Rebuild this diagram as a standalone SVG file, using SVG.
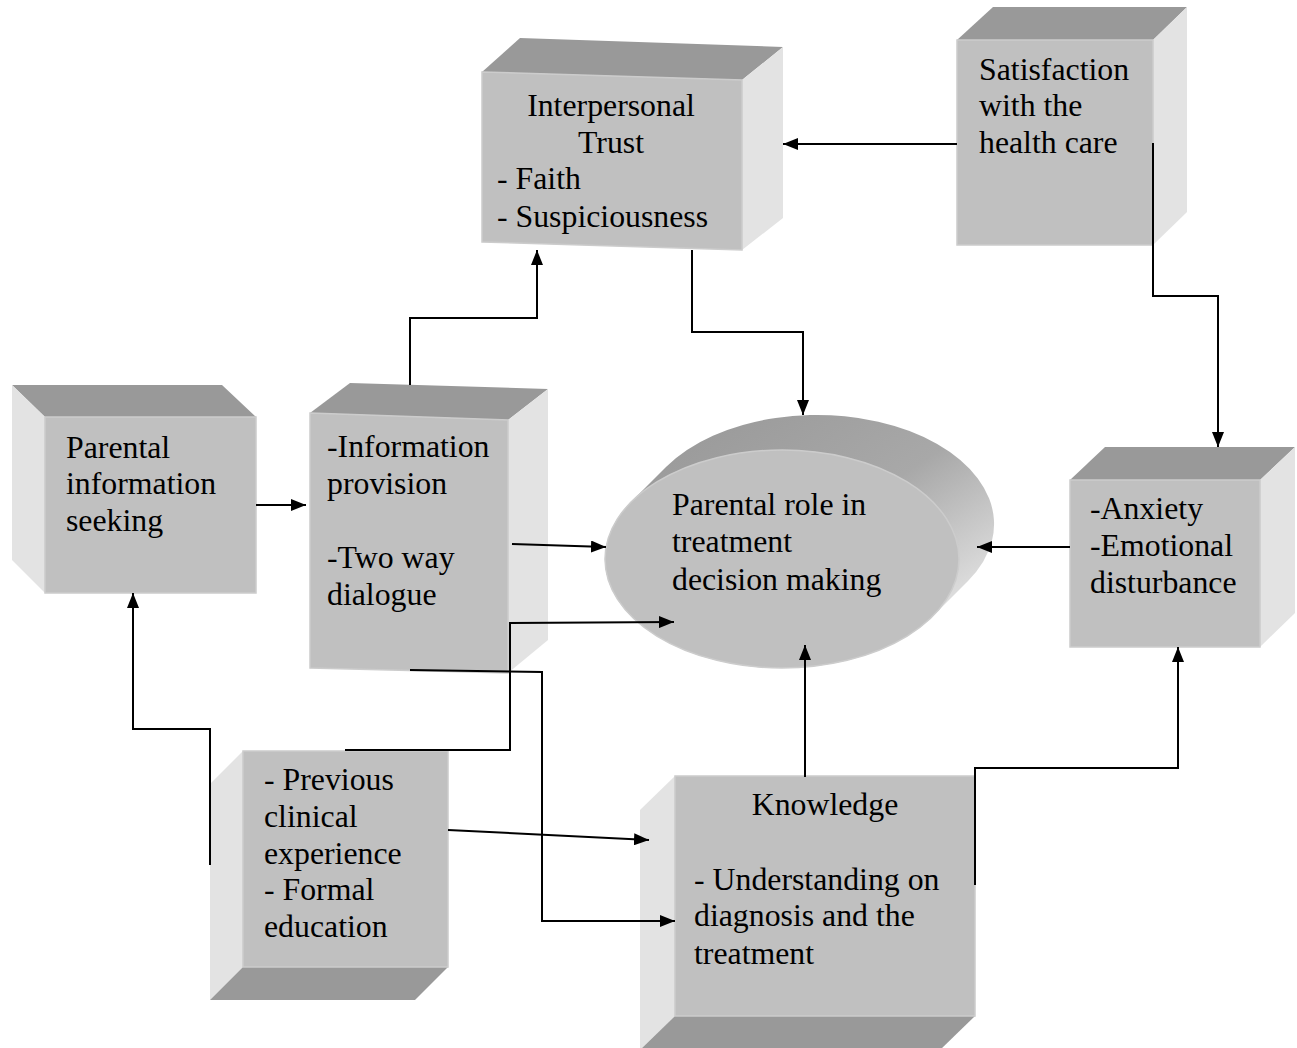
<svg xmlns="http://www.w3.org/2000/svg" width="1297" height="1048" viewBox="0 0 1297 1048">
<style>
.front{fill:#c0c0c0;stroke:#cccccc;stroke-width:1.5}
.top{fill:#999999}
.side{fill:#e3e3e3}
text{font-family:"Liberation Serif","Times New Roman",serif;font-size:31.8px;fill:#000}
.conn path{fill:none;stroke:#000;stroke-width:2}
</style>
<defs>
<marker id="ah" markerWidth="15" markerHeight="12" refX="15" refY="6" orient="auto" markerUnits="userSpaceOnUse">
<path d="M0,0 L15,6 L0,12 Z" fill="#000"/>
</marker>
<linearGradient id="eg" x1="0.25" y1="0" x2="1" y2="0.75">
<stop offset="0" stop-color="#9a9a9a"/>
<stop offset="0.5" stop-color="#a8a8a8"/>
<stop offset="1" stop-color="#e8e8e8"/>
</linearGradient>
</defs>
<rect width="1297" height="1048" fill="#fff"/>

<g id="trust">
<polygon class="top" points="482,72 520,38 783,47 742,80"/>
<polygon class="side" points="742,80 783,47 783,218 742,250"/>
<polygon class="front" points="482,72 742,80 742,250 482,242"/>
<text x="611" y="116" text-anchor="middle">Interpersonal</text>
<text x="611" y="153" text-anchor="middle">Trust</text>
<text x="497" y="189">- Faith</text>
<text x="497" y="227">- Suspiciousness</text>
</g>

<g id="satisfaction">
<polygon class="top" points="957,40 993,7 1187,7 1153,40"/>
<polygon class="side" points="1153,40 1187,7 1187,212 1153,245"/>
<polygon class="front" points="957,40 1153,40 1153,245 957,245"/>
<text x="979" y="80">Satisfaction</text>
<text x="979" y="116">with the</text>
<text x="979" y="153">health care</text>
</g>

<g id="seeking">
<polygon class="top" points="12,385 222,385 256,417 45,417"/>
<polygon class="side" points="12,385 45,417 45,593 12,560"/>
<polygon class="front" points="45,417 256,417 256,593 45,593"/>
<text x="66" y="458">Parental</text>
<text x="66" y="494">information</text>
<text x="66" y="531">seeking</text>
</g>

<g id="provision">
<polygon class="top" points="350,383 548,389 508,420 310,413"/>
<polygon class="side" points="508,420 548,389 548,640 508,673"/>
<polygon class="front" points="310,413 508,420 508,673 310,668"/>
<text x="327" y="457">-Information</text>
<text x="327" y="494">provision</text>
<text x="327" y="568">-Two way</text>
<text x="327" y="605">dialogue</text>
</g>

<g id="role">
<path d="M631,502 L666,467 A177,109 0 0 1 968,581 L933,616 A177,109 0 0 1 631,502 Z" fill="url(#eg)"/>
<ellipse cx="782" cy="559" rx="177" ry="109" fill="#c0c0c0" stroke="#cccccc" stroke-width="1.5"/>
<text x="672" y="515">Parental role in</text>
<text x="672" y="552">treatment</text>
<text x="672" y="590">decision making</text>
</g>

<g id="anxiety">
<polygon class="top" points="1070,480 1105,447 1295,447 1260,480"/>
<polygon class="side" points="1260,480 1295,447 1295,613 1260,647"/>
<polygon class="front" points="1070,480 1260,480 1260,647 1070,647"/>
<text x="1090" y="519">-Anxiety</text>
<text x="1090" y="556">-Emotional</text>
<text x="1090" y="593">disturbance</text>
</g>

<g id="experience">
<polygon class="side" points="210,784 243,751 243,967 210,1000"/>
<polygon class="top" points="243,967 448,967 415,1000 210,1000"/>
<polygon class="front" points="243,751 448,751 448,967 243,967"/>
<text x="264" y="790">- Previous</text>
<text x="264" y="827">clinical</text>
<text x="264" y="864">experience</text>
<text x="264" y="900">- Formal</text>
<text x="264" y="937">education</text>
</g>

<g id="knowledge">
<polygon class="side" points="640,810 675,776 675,1016 640,1050"/>
<polygon class="top" points="675,1016 975,1016 940,1050 640,1050"/>
<polygon class="front" points="675,776 975,776 975,1016 675,1016"/>
<text x="825" y="815" text-anchor="middle">Knowledge</text>
<text x="694" y="890">- Understanding on</text>
<text x="694" y="926">diagnosis and the</text>
<text x="694" y="964">treatment</text>
</g>

<g class="conn" id="connectors">
<path d="M957,144 L783,144" marker-end="url(#ah)"/>
<path d="M1153,143 L1153,296 L1218,296 L1218,447" marker-end="url(#ah)"/>
<path d="M692,250 L692,332 L803,332 L803,415" marker-end="url(#ah)"/>
<path d="M410,385 L410,318 L537,318 L537,250" marker-end="url(#ah)"/>
<path d="M256,505 L306,505" marker-end="url(#ah)"/>
<path d="M512,544 L606,547" marker-end="url(#ah)"/>
<path d="M1070,547 L977,547" marker-end="url(#ah)"/>
<path d="M805,777 L805,645" marker-end="url(#ah)"/>
<path d="M975,885 L975,768 L1178,768 L1178,647" marker-end="url(#ah)"/>
<path d="M345,750 L510,750 L510,623 L674,622" marker-end="url(#ah)"/>
<path d="M210,865 L210,729 L133,729 L133,593" marker-end="url(#ah)"/>
<path d="M448,830 L649,840" marker-end="url(#ah)"/>
<path d="M410,670 L542,672 L542,921 L675,921" marker-end="url(#ah)"/>
</g>
</svg>
